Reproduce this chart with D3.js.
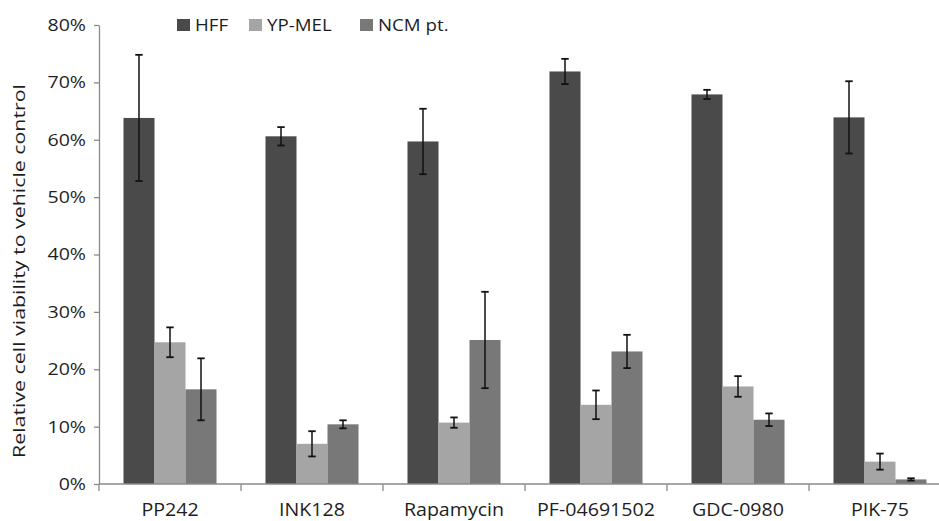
<!DOCTYPE html>
<html><head><meta charset="utf-8">
<script src="https://cdn.jsdelivr.net/npm/d3@7"></script>
<style>body{margin:0;background:#fff;overflow:hidden}svg{display:block}</style>
</head><body><svg id="c" width="939" height="521"></svg>
<script>
const categories = ["PP242","INK128","Rapamycin","PF-04691502","GDC-0980","PIK-75"];
const seriesNames = ["HFF","YP-MEL","NCM pt."];
const hff    = [63.8, 60.6, 59.7, 71.9, 67.9, 63.9];
const ypmel  = [24.7, 7.0, 10.7, 13.8, 17.0, 3.9];
const ncm    = [16.5, 10.4, 25.1, 23.1, 11.2, 0.8];
const hffErr   = [11.0, 1.6, 5.7, 2.2, 0.8, 6.3];
const ypmelErr = [2.6, 2.2, 0.9, 2.5, 1.8, 1.4];
const ncmErr   = [5.4, 0.7, 8.4, 2.9, 1.1, 0.2];
const yTicks = [0,10,20,30,40,50,60,70,80];
const colors = ["#4a4a4a","#a5a5a5","#787878"];

const values = [hff, ypmel, ncm];
const errs = [hffErr, ypmelErr, ncmErr];

const svg = d3.select("#c");
const font = "'Open Sans', sans-serif";
const textColor = "#1e1e1e";
function stretch(sel, f){
  sel.each(function(){
    const w = this.getComputedTextLength();
    d3.select(this).attr("textLength", w*f).attr("lengthAdjust","spacingAndGlyphs");
  });
}
const x0 = d3.scaleBand().domain(categories).range([99, 951]).paddingInner(0.345).paddingOuter(0.1725);
const x1 = d3.scaleBand().domain(seriesNames).range([0, x0.bandwidth()]);
const y = d3.scaleLinear().domain([0, 80]).range([484, 25]);
const axisColor = "#8a8a8a";

// y axis
const ya = svg.append("g").attr("transform","translate(99,0)")
  .call(d3.axisLeft(y).tickValues(yTicks).tickSize(5).tickSizeOuter(0).tickPadding(8).tickFormat(d => d + "%"));
ya.select(".domain").attr("stroke", axisColor).attr("stroke-width",1.3);
ya.selectAll(".tick line").attr("stroke", axisColor).attr("stroke-width",1.3);
ya.selectAll("text").attr("font-family", font).attr("font-size", 17).attr("fill",textColor).call(stretch, 1.15);

// bars
const groups = svg.append("g").selectAll("g").data(categories).join("g")
  .attr("transform", d => `translate(${x0(d)},0)`);
seriesNames.forEach((s, si) => {
  groups.append("rect")
    .attr("x", x1(s)).attr("width", x1.bandwidth())
    .attr("y", (d,i) => y(values[si][i]))
    .attr("height", (d,i) => y(0) - y(values[si][i]))
    .attr("fill", colors[si]);
});
// error bars
seriesNames.forEach((s, si) => {
  const cx = x1(s) + x1.bandwidth()/2;
  groups.each(function(d, i){
    const g = d3.select(this);
    const v = values[si][i], e = errs[si][i];
    const top = y(v + e), bot = y(v - e);
    g.append("line").attr("x1",cx).attr("x2",cx).attr("y1",top).attr("y2",bot).attr("stroke","#111").attr("stroke-width",1.5);
    [top, bot].forEach(yy => g.append("line").attr("x1",cx-3.7).attr("x2",cx+3.7).attr("y1",yy).attr("y2",yy).attr("stroke","#111").attr("stroke-width",1.8));
  });
});

// x axis
const xa = svg.append("g");
xa.append("line").attr("x1",99).attr("x2",951).attr("y1",y(0)).attr("y2",y(0)).attr("stroke",axisColor).attr("stroke-width",1.3);
xa.selectAll("line.tk").data(d3.range(categories.length+1)).join("line").attr("class","tk")
  .attr("x1", i => 99 + i*x0.step()).attr("x2", i => 99 + i*x0.step())
  .attr("y1", y(0)).attr("y2", y(0)+7).attr("stroke",axisColor).attr("stroke-width",1.3);
xa.selectAll("text").data(categories).join("text")
  .attr("x", d => x0(d) + x0.bandwidth()/2).attr("y", 516)
  .attr("text-anchor","middle").attr("font-family",font).attr("font-size",17.5).attr("fill",textColor).text(d => d)
  .call(stretch, 1.12);

// y title
svg.append("text").attr("transform","translate(25,271) rotate(-90)").attr("text-anchor","middle")
  .attr("font-family",font).attr("font-size",16).attr("fill",textColor)
  .attr("textLength",374).attr("lengthAdjust","spacingAndGlyphs")
  .text("Relative cell viability to vehicle control");

// legend
const legendX = [177, 249, 360];
const lg = svg.append("g").selectAll("g").data(seriesNames).join("g")
  .attr("transform", (d,i) => `translate(${legendX[i]},19)`);
lg.append("rect").attr("width",13).attr("height",12).attr("fill",(d,i)=>colors[i]);
lg.append("text").attr("x",18).attr("y",12).attr("font-family",font).attr("font-size",17).attr("fill",textColor).text(d=>d)
  .call(stretch, 1.1);
</script></body></html>
